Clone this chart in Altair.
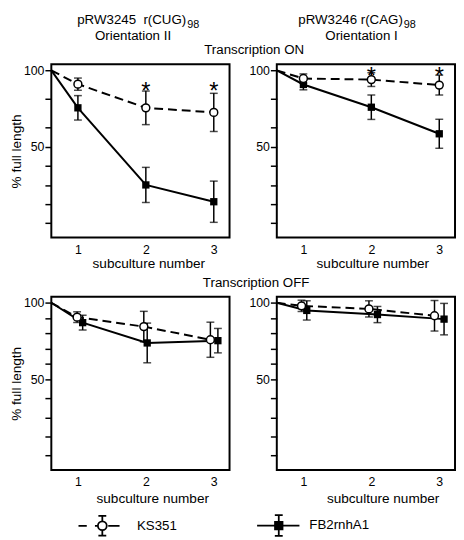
import altair as alt
import pandas as pd

FONT = "Liberation Sans"

# ---------------- data ----------------
start_x = 0
start_y = 100
x_ticks = [1, 2, 3]
series_names = ["KS351", "FB2rnhA1"]

# Top-left: pRW3245 r(CUG)98, Orientation II, transcription ON
tl_ks_x = [1, 2, 3]
tl_ks_y = [91.0, 75.5, 72.5]
tl_ks_err = [4.0, 11.0, 12.5]
tl_fb_x = [1, 2, 3]
tl_fb_y = [75.5, 25.0, 14.0]
tl_fb_err = [8.0, 11.5, 13.5]
tl_star_x = [2, 3]
tl_star_y = [90.0, 90.0]

# Top-right: pRW3246 r(CAG)98, Orientation I, transcription ON
tr_ks_x = [1, 2, 3]
tr_ks_y = [94.7, 94.0, 90.4]
tr_ks_err = [3.0, 4.5, 6.5]
tr_fb_x = [1, 2, 3]
tr_fb_y = [90.8, 75.9, 58.5]
tr_fb_err = [3.5, 8.0, 9.5]
tr_star_x = [2, 3]
tr_star_y = [100.4, 100.4]

# Bottom-left: transcription OFF
bl_ks_x = [0.97, 1.97, 2.95]
bl_ks_y = [90.6, 84.4, 75.8]
bl_ks_err = [3.5, 10.0, 11.5]
bl_fb_x = [1.07, 2.02, 3.06]
bl_fb_y = [87.0, 73.7, 75.2]
bl_fb_err = [4.8, 13.0, 8.0]

# Bottom-right: transcription OFF
br_ks_x = [0.93, 1.965, 2.93]
br_ks_y = [98.0, 96.0, 91.5]
br_ks_err = [3.7, 5.3, 10.0]
br_fb_x = [1.05, 2.09, 3.07]
br_fb_y = [95.0, 92.3, 89.3]
br_fb_err = [6.3, 5.3, 10.3]

y_ticks_on = [0, 12.5, 25, 37.5, 50, 62.5, 81.25, 100]
y_ticks_off = [0, 12.5, 25, 37.5, 50, 60, 70, 80, 90, 100]
y_labels = [50, 100]

# ---------------- styling ----------------
W, H = 181, 176
xscale = alt.Scale(domain=[0, 1, 3, 3.23], range=[0, 27, 165, W], zero=False, nice=False)
yscale = alt.Scale(domain=[-9.5, 104], zero=False, nice=False)
one_row = pd.DataFrame({"k": [0]})

label_expr = "indexof([" + ",".join(str(v) for v in y_labels) + "], datum.value) >= 0 ? datum.label : ''"


def make_x(field, tx, ty):
    return alt.X(
        f"{field}:Q", scale=xscale, title="subculture number",
        axis=alt.Axis(values=x_ticks, format="d", ticks=False, tickSize=0, labelPadding=6,
                      labelFlush=False, domain=False, grid=False,
                      titleX=tx, titleY=ty, titleAlign="center", titleBaseline="alphabetic"),
    )


def make_y(field, ticks, show_title):
    return alt.Y(
        f"{field}:Q", scale=yscale,
        title="% full length" if show_title else None,
        axis=alt.Axis(values=ticks, labelExpr=label_expr, tickSize=6.5, tickWidth=1.5,
                      labelPadding=1, titlePadding=0, domain=False, grid=False),
    )


def text_layer(text, x, y, size=13.5, align="center"):
    return alt.Chart(one_row).mark_text(
        text=text, fontSize=size, align=align, baseline="alphabetic", font=FONT, color="black"
    ).encode(x=alt.value(x), y=alt.value(y))


def panel(ks_x, ks_y, ks_err, fb_x, fb_y, fb_err, star_x, star_y, yticks, show_ytitle, tx, ty, extras):
    ks = pd.DataFrame({"x": ks_x, "y": ks_y, "err": ks_err})
    fb = pd.DataFrame({"x": fb_x, "y": fb_y, "err": fb_err})
    for d in (ks, fb):
        d["lo"] = d["y"] - d["err"]
        d["hi"] = d["y"] + d["err"]
    ks_line = pd.DataFrame({"x": [start_x] + list(ks_x), "y": [start_y] + list(ks_y)})
    fb_line = pd.DataFrame({"x": [start_x] + list(fb_x), "y": [start_y] + list(fb_y)})

    X = lambda f: make_x(f, tx, ty)
    Y = lambda f: make_y(f, yticks, show_ytitle)

    layers = [
        alt.Chart(fb_line).mark_line(color="black", strokeWidth=2).encode(x=X("x"), y=Y("y")),
        alt.Chart(ks_line).mark_line(color="black", strokeWidth=2, strokeDash=[9, 5]).encode(x=X("x"), y=Y("y")),
    ]
    for d in (fb, ks):
        layers.append(alt.Chart(d).mark_rule(color="black", strokeWidth=1.5).encode(
            x=X("x"), y=Y("lo"), y2="hi"))
        for f in ("lo", "hi"):
            layers.append(alt.Chart(d).mark_tick(orient="horizontal", size=8, thickness=1.5, color="black").encode(
                x=X("x"), y=Y(f)))
    layers.append(alt.Chart(fb).mark_point(shape="square", size=55, filled=True, color="black", opacity=1).encode(
        x=X("x"), y=Y("y")))
    layers.append(alt.Chart(ks).mark_point(shape="circle", size=64, filled=True, fill="white", stroke="black",
                                           strokeWidth=1.5, opacity=1).encode(x=X("x"), y=Y("y")))
    if star_x:
        st = pd.DataFrame({"x": star_x, "y": star_y, "t": ["*"] * len(star_x)})
        layers.append(alt.Chart(st).mark_text(fontSize=24, font=FONT, baseline="middle", dy=7, color="black").encode(
            x=X("x"), y=Y("y"), text="t:N"))
    layers.extend(extras)
    return alt.layer(*layers).properties(width=W, height=H)


# legend glyphs (custom symbol paths, unit = 10px at size 400)
ks_path = ("M -2.84 0 L -2.0 0 M -1.17 0 L -0.87 0 "
           "M 0.03 0 A 0.45 0.45 0 1 1 -0.87 0 A 0.45 0.45 0 1 1 0.03 0 Z "
           "M 0.18 0 L 1.33 0 "
           "M -0.42 -0.45 L -0.42 -1 M -0.82 -1 L -0.02 -1 "
           "M -0.42 0.45 L -0.42 1 M -0.82 1 L -0.02 1")
fb_path = ("M -2.2 0 L 2.1 0 "
           "M -0.38 -0.38 L 0.38 -0.38 L 0.38 0.38 L -0.38 0.38 Z "
           "M 0 -1.05 L 0 1.05 M -0.4 -1.05 L 0.4 -1.05 M -0.4 1.05 L 0.4 1.05")

leg = alt.Legend(orient="none", legendX=45, legendY=221, direction="horizontal", title=None,
                 symbolSize=400, labelFontSize=13.5, labelFont=FONT, labelColor="black",
                 labelOffset=20, columnPadding=77, padding=0,
                 symbolStrokeColor="black", symbolStrokeWidth=1.8)
legend_layer = alt.Chart(pd.DataFrame({"series": series_names})).transform_filter("false").mark_point(
    filled=True, stroke="black", strokeWidth=1.8, opacity=1
).encode(
    shape=alt.Shape("series:N", scale=alt.Scale(domain=series_names, range=[ks_path, fb_path]), legend=leg),
    fill=alt.Fill("series:N", scale=alt.Scale(domain=series_names, range=["white", "black"]), legend=leg),
    stroke=alt.Stroke("series:N", scale=alt.Scale(domain=series_names, range=["black", "black"]), legend=leg),
)

NB = "\u00a0"
tl = panel(tl_ks_x, tl_ks_y, tl_ks_err, tl_fb_x, tl_fb_y, tl_fb_err, tl_star_x, tl_star_y,
           y_ticks_on, True, 98.5, 30,
           [text_layer("pRW3245" + NB + " r(CUG)", 137, -41, align="right"),
            text_layer("98", 138, -37, size=11, align="left"),
            text_layer("Orientation II", 83, -25),
            text_layer("Transcription ON", 206, -10)])
tr = panel(tr_ks_x, tr_ks_y, tr_ks_err, tr_fb_x, tr_fb_y, tr_fb_err, tr_star_x, tr_star_y,
           y_ticks_on, False, 97, 30,
           [text_layer("pRW3246 r(CAG)", 128, -41, align="right"),
            text_layer("98", 129, -37, size=11, align="left"),
            text_layer("Orientation I", 86, -25)])
bl = panel(bl_ks_x, bl_ks_y, bl_ks_err, bl_fb_x, bl_fb_y, bl_fb_err, [], [],
           y_ticks_off, True, 102.5, 33,
           [text_layer("Transcription OFF", 208, -9.5), legend_layer])
br = panel(br_ks_x, br_ks_y, br_ks_err, br_fb_x, br_fb_y, br_fb_err, [], [],
           y_ticks_off, False, 107.5, 33, [])

chart = alt.concat(tl, tr, bl, br, columns=2, spacing={"row": 60, "column": 48}, bounds="flush").resolve_scale(
    shape="independent", fill="independent", stroke="independent"
).properties(padding=0).configure(font=FONT).configure_view(
    stroke="black", strokeWidth=2
).configure_axis(
    labelFont=FONT, titleFont=FONT, labelColor="black", titleColor="black", tickColor="black",
    labelFontSize=12.5, titleFontSize=13.8, titleFontWeight="normal"
)

chart.save("out.html", embed_options={"renderer": "svg", "actions": False})
